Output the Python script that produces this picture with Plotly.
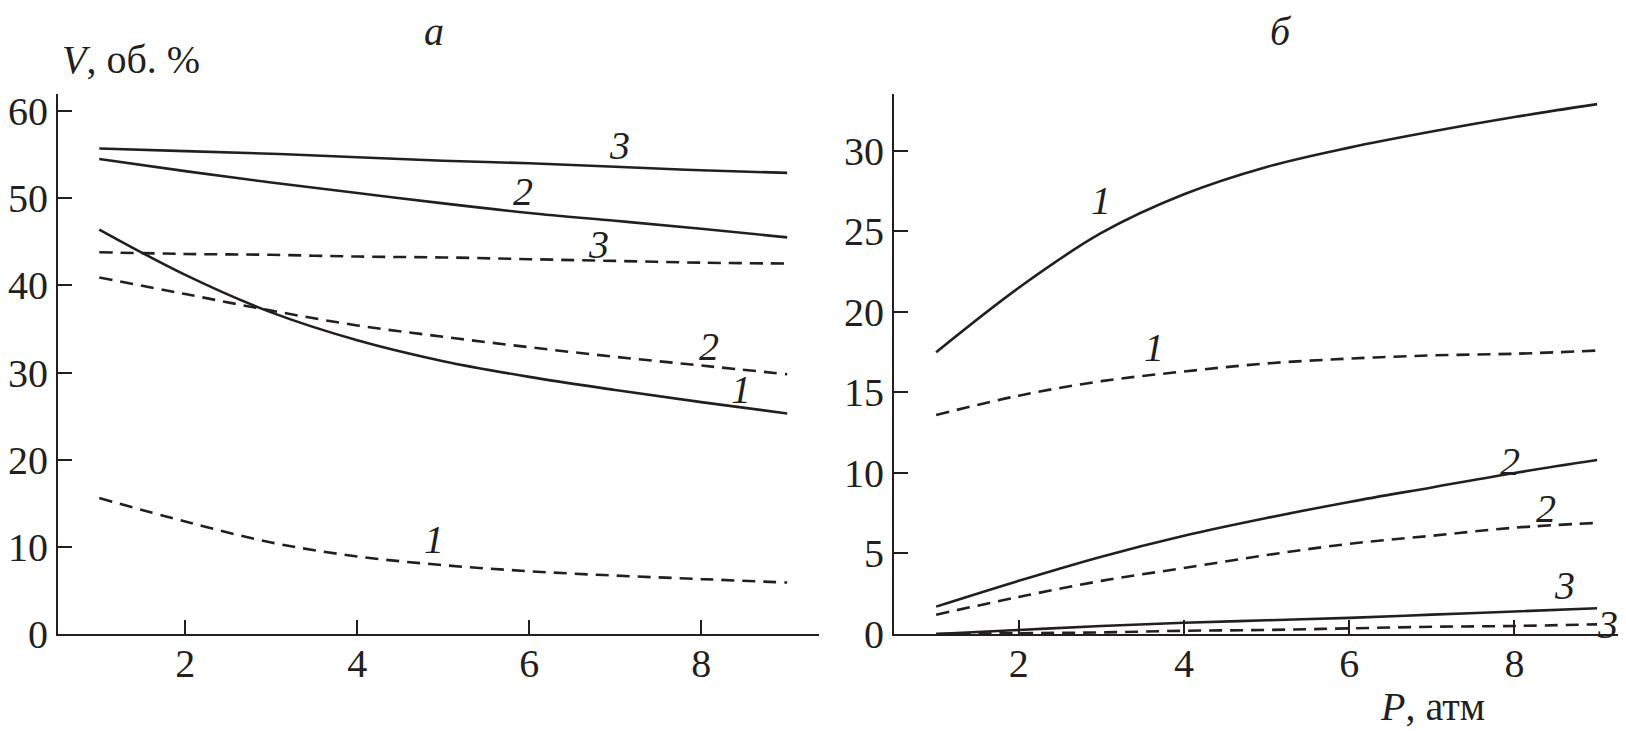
import plotly.graph_objects as go

P = [1, 2, 3, 4, 5, 6, 7, 8, 9]

# Panel а (left)
a_solid_1 = [46.4, 41.2, 36.9, 33.7, 31.3, 29.5, 28.0, 26.6, 25.3]
a_solid_2 = [54.5, 53.1, 51.8, 50.6, 49.4, 48.3, 47.4, 46.5, 45.5]
a_solid_3 = [55.7, 55.4, 55.1, 54.7, 54.3, 54.0, 53.6, 53.2, 52.9]
a_dash_1 = [15.6, 12.9, 10.5, 8.9, 7.9, 7.2, 6.7, 6.3, 5.9]
a_dash_2 = [40.9, 39.0, 37.1, 35.4, 34.1, 32.9, 31.8, 30.8, 29.8]
a_dash_3 = [43.8, 43.6, 43.5, 43.3, 43.2, 43.0, 42.8, 42.6, 42.5]

# Panel б (right)
b_solid_1 = [17.5, 21.5, 24.9, 27.3, 29.0, 30.2, 31.2, 32.1, 32.9]
b_solid_2 = [1.7, 3.3, 4.8, 6.1, 7.2, 8.2, 9.1, 10.0, 10.8]
b_solid_3 = [0.0, 0.25, 0.5, 0.7, 0.85, 1.0, 1.2, 1.4, 1.6]
b_dash_1 = [13.6, 14.8, 15.7, 16.3, 16.8, 17.1, 17.3, 17.4, 17.6]
b_dash_2 = [1.2, 2.3, 3.3, 4.1, 4.9, 5.6, 6.1, 6.6, 6.9]
b_dash_3 = [0.0, 0.05, 0.1, 0.2, 0.25, 0.35, 0.45, 0.5, 0.6]

x_ticks = [2, 4, 6, 8]
a_y_ticks = [0, 10, 20, 30, 40, 50, 60]
b_y_ticks = [0, 5, 10, 15, 20, 25, 30]

# label positions (curve number, x, y)
a_labels = [("3", 7.05, 56.0), ("2", 5.93, 50.8), ("3", 6.81, 44.7),
            ("2", 8.09, 33.0), ("1", 8.46, 28.0), ("1", 4.89, 10.8)]
b_labels = [("1", 3.0, 26.9), ("1", 3.64, 17.8), ("2", 7.94, 10.7),
            ("2", 8.38, 7.8), ("3", 8.6, 3.0), ("3", 9.12, 0.6)]

FONT = "Liberation Serif"
INK = "#231f20"
LW = 2.6
DASH = "13px,8px"
FS = 40

# page body has an 8px margin; figure sized so it fits the window exactly
W, H, OFF = 1618, 723, 8
def fx(X):
    return (X - OFF) / W
def fy(Y):
    return 1 - (Y - OFF) / H

fig = go.Figure()

def add(xs, ys, dash, xa, ya):
    fig.add_trace(go.Scatter(x=xs, y=ys, mode="lines", xaxis=xa, yaxis=ya,
                             line=dict(color=INK, width=LW, dash=dash, shape="spline", smoothing=1.0),
                             showlegend=False, hoverinfo="skip"))

for s in (a_solid_1, a_solid_2, a_solid_3):
    add(P, s, "solid", "x", "y")
for s in (a_dash_1, a_dash_2, a_dash_3):
    add(P, s, DASH, "x", "y")
for s in (b_solid_1, b_solid_2, b_solid_3):
    add(P, s, "solid", "x2", "y2")
for s in (b_dash_1, b_dash_2, b_dash_3):
    add(P, s, DASH, "x2", "y2")

ann = []
for t, x, y in a_labels:
    ann.append(dict(text="<i>%s</i>" % t, x=x, y=y, xref="x", yref="y", showarrow=False,
                    xanchor="center", yanchor="middle",
                    font=dict(family=FONT, size=FS, color=INK)))
for t, x, y in b_labels:
    ann.append(dict(text="<i>%s</i>" % t, x=x, y=y, xref="x2", yref="y2", showarrow=False,
                    xanchor="center", yanchor="middle",
                    font=dict(family=FONT, size=FS, color=INK)))

ann.append(dict(text="<i>а</i>", x=fx(434), y=1.0, xref="paper", yref="paper",
                xanchor="center", yanchor="top", borderpad=0,
                showarrow=False, font=dict(family=FONT, size=FS, color=INK)))
ann.append(dict(text="<i>б</i>", x=fx(1281), y=1.0, xref="paper", yref="paper",
                xanchor="center", yanchor="top", borderpad=0,
                showarrow=False, font=dict(family=FONT, size=FS, color=INK)))
ann.append(dict(text="<i>V</i>, об. %", x=fx(60), y=fy(60), xref="paper", yref="paper",
                xanchor="left", yanchor="middle", showarrow=False,
                font=dict(family=FONT, size=FS, color=INK)))
ann.append(dict(text="<i>P</i>, атм", x=fx(1378), y=fy(706), xref="paper", yref="paper",
                xanchor="left", yanchor="middle", showarrow=False,
                font=dict(family=FONT, size=FS, color=INK)))

axis_common = dict(showline=True, linecolor=INK, linewidth=2, showgrid=False, zeroline=False,
                   ticks="inside", ticklen=14, tickwidth=2, tickcolor=INK,
                   tickfont=dict(family=FONT, size=FS, color=INK), automargin=False)

ydom = [fy(634), fy(94)]

fig.update_layout(
    width=W, height=H, paper_bgcolor="white", plot_bgcolor="white",
    margin=dict(l=0, r=0, t=0, b=0),
    xaxis=dict(domain=[fx(58), fx(819)], range=[0.52, 9.37], tickvals=x_ticks, anchor="y",
               ticklabelstandoff=-7, **axis_common),
    yaxis=dict(domain=ydom, range=[0, 61.95], tickvals=a_y_ticks, anchor="x", **axis_common),
    xaxis2=dict(domain=[fx(894), 1.0], range=[0.49, 9.35], tickvals=x_ticks, anchor="y2",
                ticklabelstandoff=-7, **axis_common),
    yaxis2=dict(domain=ydom, range=[0, 33.53], tickvals=b_y_ticks, anchor="x2", **axis_common),
    annotations=ann,
)

fig.write_html("out.html")
